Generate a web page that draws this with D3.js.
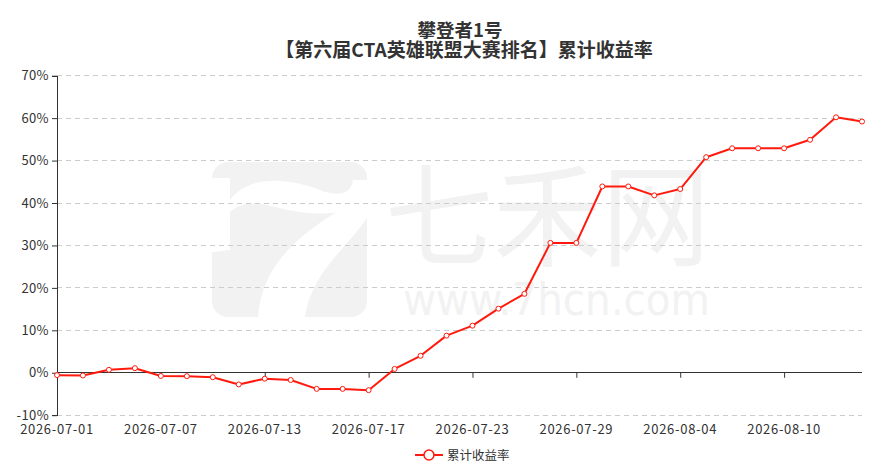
<!DOCTYPE html>
<html><head><meta charset="utf-8">
<script src="https://cdn.jsdelivr.net/npm/d3@7"></script>
<style>
html,body{margin:0;padding:0;background:#fff;}
svg{display:block;font-family:"Noto Sans CJK SC","Noto Sans",sans-serif;}
</style></head>
<body>
<svg id="chart" width="890" height="471"></svg>
<script>
const titleLines = ["攀登者1号", "【第六届CTA英雄联盟大赛排名】累计收益率"];
const seriesName = "累计收益率";
const dates = ["2026-07-01","2026-07-02","2026-07-03","2026-07-06","2026-07-07","2026-07-08","2026-07-09","2026-07-10",
  "2026-07-13","2026-07-14","2026-07-15","2026-07-16","2026-07-17","2026-07-20","2026-07-21","2026-07-22",
  "2026-07-23","2026-07-24","2026-07-27","2026-07-28","2026-07-29","2026-07-30","2026-07-31","2026-08-03",
  "2026-08-04","2026-08-05","2026-08-06","2026-08-07","2026-08-10","2026-08-11","2026-08-12","2026-08-13"];
const values = [-0.56,-0.64,0.7,1.08,-0.75,-0.8,-1.05,-2.75,
  -1.4,-1.7,-3.8,-3.8,-4.1,0.9,4.0,8.75,
  11.1,15.1,18.6,30.6,30.6,43.9,43.9,41.8,
  43.3,50.8,52.9,52.9,52.9,54.9,60.2,59.2];
const yTicks = [-10,0,10,20,30,40,50,60,70];
const xLabelEvery = 4;

const svg = d3.select("#chart");
const W = 890, H = 471;
const m = {left:57, right:28, top:75.7, bottom:471-415.2};

// watermark
const wm = svg.append("g").attr("fill","#f2f2f2");
wm.append("rect").attr("x",212).attr("y",162).attr("width",155).attr("height",155).attr("rx",16);
const wmw = svg.append("g").attr("fill","#fff");
wmw.append("path").attr("d","M230,200 C250,172 295,180 320,190 C340,198 352,192 353,180 L367,180 L367,200 C350,212 330,216 300,212 C270,208 250,195 230,212 Z");
wmw.append("path").attr("d","M348,205 L367,198 L367,218 C345,250 312,272 305,317 L258,317 C262,268 292,238 348,205 Z");
wmw.append("path").attr("d","M212,178 L230,178 L230,250 C225,250 218,252 212,252 Z");
svg.append("text").attr("x",385).attr("y",258).attr("font-size",112).attr("fill","#f2f2f2")
  .attr("textLength",325).attr("lengthAdjust","spacingAndGlyphs").text("七禾网");
svg.append("text").attr("x",403).attr("y",315).attr("font-size",44).attr("fill","#f2f2f2")
  .attr("font-family","DejaVu Sans").attr("textLength",307).attr("lengthAdjust","spacingAndGlyphs").text("www.7hcn.com");

const x = d3.scalePoint().domain(dates).range([m.left, W - m.right]);
const y = d3.scaleLinear().domain([-10,70]).range([H - m.bottom, m.top]);

// grid
svg.append("g").selectAll("line").data(yTicks.filter(d=>d!==0)).join("line")
  .attr("x1", m.left).attr("x2", W - m.right)
  .attr("y1", d=>y(d)).attr("y2", d=>y(d))
  .attr("stroke","#ccc").attr("stroke-dasharray","5,4").attr("shape-rendering","crispEdges");

// y axis
const yAxis = d3.axisLeft(y).tickValues(yTicks).tickFormat(d=>d+"%").tickSize(5).tickPadding(3);
const gy = svg.append("g").attr("transform",`translate(${m.left},0)`).call(yAxis);
gy.select(".domain").attr("stroke","#333").attr("shape-rendering","crispEdges");
gy.selectAll(".tick line").attr("stroke","#333");
gy.selectAll("text").attr("fill","#333").attr("font-size",13).attr("letter-spacing","0.4px")
  .attr("font-family","\"Noto Sans CJK SC\",sans-serif");

// x axis at zero line
const xAxis = d3.axisBottom(x).tickValues(dates.filter((d,i)=>i%xLabelEvery===0)).tickSize(5).tickFormat(()=> "");
const gx = svg.append("g").attr("transform",`translate(0,${y(0)})`).call(xAxis);
gx.select(".domain").attr("stroke","#333").attr("d",`M${m.left},0H${W-m.right}`).attr("shape-rendering","crispEdges");
gx.selectAll(".tick line").attr("stroke","#333");
// x labels at bottom
svg.append("g").selectAll("text").data(dates.filter((d,i)=>i%xLabelEvery===0)).join("text")
  .attr("x", d=>x(d)).attr("y", 434).attr("text-anchor","middle")
  .attr("font-size",13).attr("letter-spacing","0.7px").attr("fill","#333").text(d=>d);

// line
const line = d3.line().x((d,i)=>x(dates[i])).y(d=>y(d));
svg.append("path").datum(values).attr("d",line).attr("fill","none")
  .attr("stroke","#ff1a0d").attr("stroke-width",2).attr("stroke-linejoin","round");
svg.append("g").selectAll("circle").data(values).join("circle")
  .attr("cx",(d,i)=>x(dates[i])).attr("cy",d=>y(d)).attr("r",2.5)
  .attr("fill","#fff").attr("stroke","#ff1a0d").attr("stroke-width",1);

// title
svg.append("text").attr("x",460).attr("y",37).attr("text-anchor","middle")
  .attr("font-size",18.5).attr("font-weight","bold").attr("fill","#333").text(titleLines[0]);
svg.append("text").attr("x",464).attr("y",57).attr("text-anchor","middle")
  .attr("font-size",19).attr("font-weight","bold").attr("fill","#333").text(titleLines[1]);

// legend
const lg = svg.append("g");
lg.append("line").attr("x1",415).attr("x2",443).attr("y1",455).attr("y2",455).attr("stroke","#ff1a0d").attr("stroke-width",2);
lg.append("circle").attr("cx",429).attr("cy",455).attr("r",5).attr("fill","#fff").attr("stroke","#ff1a0d").attr("stroke-width",1.5);
lg.append("text").attr("x",447).attr("y",459.5).attr("font-size",12.5).attr("fill","#333").text(seriesName);
</script>
</body></html>
